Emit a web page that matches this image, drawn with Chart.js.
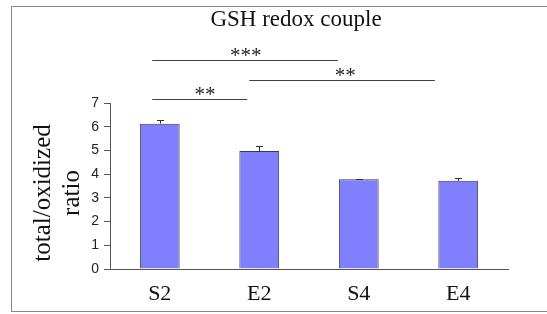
<!DOCTYPE html>
<html><head><meta charset="utf-8">
<script src="https://cdn.jsdelivr.net/npm/chart.js@4"></script>
<style>
html,body{margin:0;padding:0;background:#fff;width:547px;height:314px;overflow:hidden;}
#frame{position:absolute;left:11px;top:6px;width:560px;height:304px;border:1.5px solid #8a8a8a;}
#wrap{position:absolute;left:0;top:0;width:547px;height:314px;}
</style></head>
<body>
<div id="frame"></div>
<div id="wrap"><canvas id="c" width="547" height="314"></canvas></div>
<script>
const chartTitle = 'GSH redox couple';
const categories = ['S2', 'E2', 'S4', 'E4'];
const ratioValues = [6.13, 4.98, 3.78, 3.72];
const ratioErrors = [0.17, 0.20, 0.02, 0.10];
const yTickValues = [0, 1, 2, 3, 4, 5, 6, 7];
const yAxisTitle = ['total/oxidized', 'ratio'];
// significance brackets: from/to in category index units, level in y units
const sigFrom = [-0.075, 0.90, -0.075];
const sigTo = [1.79, 2.765, 0.88];
const sigLevel = [8.82, 7.97, 7.16];
const sigLabel = ['***', '**', '**'];
const sigLabelPos = [0.865, 1.865, 0.455];

const extras = {
  id: 'extras',
  afterDatasetsDraw(chart) {
    const ctx = chart.ctx;
    const x = chart.scales.x, y = chart.scales.y;
    const meta = chart.getDatasetMeta(0);
    const step = x.getPixelForValue(1) - x.getPixelForValue(0);
    const x0 = x.getPixelForValue(0);
    ctx.save();
    // error bars (upper)
    ctx.strokeStyle = '#303030';
    ctx.lineWidth = 1;
    ratioValues.forEach((v, i) => {
      const cx = Math.round(meta.data[i].x);
      const y0 = y.getPixelForValue(v);
      const y1 = Math.round(y.getPixelForValue(v + ratioErrors[i])) + 0.5;
      ctx.beginPath();
      ctx.moveTo(cx + 0.5, y0);
      ctx.lineTo(cx + 0.5, y1);
      ctx.moveTo(cx - 3, y1);
      ctx.lineTo(cx + 4, y1);
      ctx.stroke();
    });
    // significance brackets
    ctx.strokeStyle = '#404040';
    ctx.lineWidth = 1;
    ctx.fillStyle = '#222';
    ctx.font = '21px "Liberation Serif", "Times New Roman", serif';
    ctx.textAlign = 'center';
    ctx.textBaseline = 'middle';
    sigLevel.forEach((lv, i) => {
      const py = Math.round(y.getPixelForValue(lv)) + 0.5;
      ctx.beginPath();
      ctx.moveTo(x0 + sigFrom[i] * step, py);
      ctx.lineTo(x0 + sigTo[i] * step, py);
      ctx.stroke();
      ctx.fillText(sigLabel[i], x0 + sigLabelPos[i] * step, py - 4.5);
    });
    // title
    ctx.font = '23px "Liberation Serif", "Times New Roman", serif';
    ctx.fillStyle = '#111';
    ctx.fillText(chartTitle, 296, 20);
    // y axis title (two lines, rotated)
    ctx.save();
    ctx.translate(57, 193);
    ctx.rotate(-Math.PI / 2);
    ctx.font = '25px "Liberation Serif", "Times New Roman", serif';
    ctx.fillText(yAxisTitle[0], 0, -14);
    ctx.fillText(yAxisTitle[1], 0, 15);
    ctx.restore();
    ctx.restore();
  }
};

new Chart(document.getElementById('c'), {
  type: 'bar',
  data: {
    labels: categories,
    datasets: [{
      data: ratioValues,
      backgroundColor: '#8080ff',
      borderColor: '#3a3a3a',
      borderWidth: 1,
      borderSkipped: 'bottom',
      barPercentage: 0.4,
      categoryPercentage: 1.0
    }]
  },
  options: {
    responsive: false,
    animation: false,
    devicePixelRatio: 1,
    layout: { padding: { left: 0, right: 39, top: 103, bottom: 0 } },
    plugins: { legend: { display: false }, tooltip: { enabled: false }, title: { display: false } },
    scales: {
      x: {
        grid: { display: false, drawTicks: false },
        border: { display: true, color: '#555', width: 1 },
        ticks: { color: '#111', font: { family: '"Liberation Serif", "Times New Roman", serif', size: 22 }, padding: 12 },
        afterFit(s) { s.height = 45; }
      },
      y: {
        min: 0, max: 7,
        afterBuildTicks(s) { s.ticks = yTickValues.map(v => ({ value: v })); },
        grid: { drawOnChartArea: false, drawTicks: true, tickLength: 6, color: '#555' },
        border: { display: true, color: '#555', width: 1 },
        ticks: { color: '#222', font: { family: '"Liberation Sans", Arial, sans-serif', size: 14 }, padding: 5 },
        title: { display: false },
        afterFit(s) { s.width = 110; }
      }
    }
  },
  plugins: [extras]
});
</script>
</body></html>
